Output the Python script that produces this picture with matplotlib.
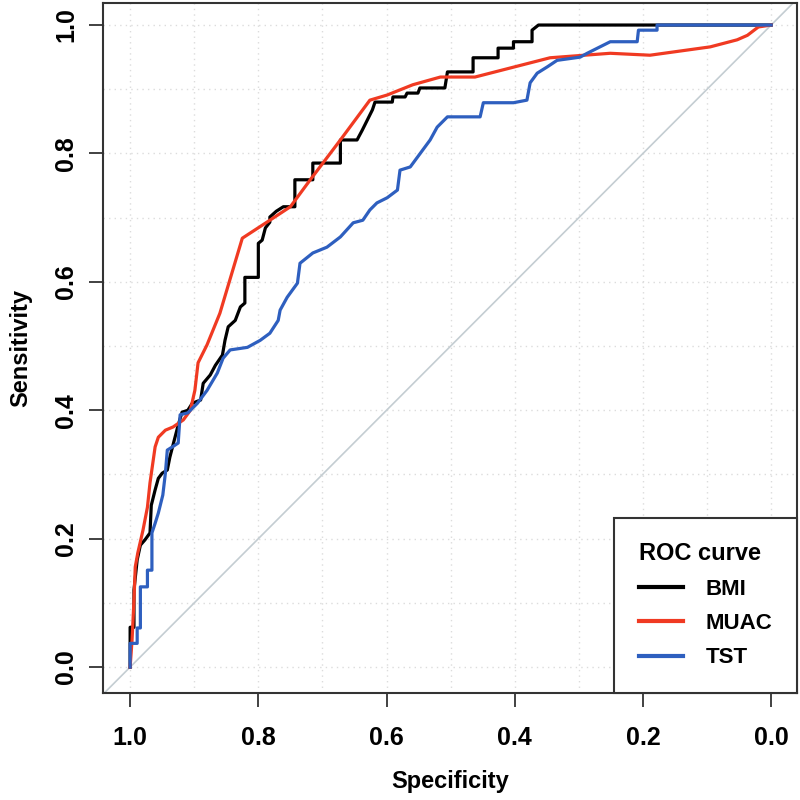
import matplotlib
matplotlib.use("Agg")
import matplotlib.pyplot as plt
import numpy as np

# ---- data (specificity, sensitivity) ----
bmi_spec = [1.0, 1.0, 0.994, 0.994, 0.989, 0.984, 0.977, 0.969, 0.967, 0.961, 0.956, 0.950, 0.942,
            0.938, 0.931, 0.925, 0.919, 0.910, 0.903, 0.890, 0.886, 0.875, 0.867, 0.856, 0.852, 0.847,
            0.836, 0.828, 0.821, 0.821, 0.800, 0.800, 0.794, 0.789, 0.782, 0.782, 0.772, 0.761, 0.743,
            0.743, 0.715, 0.715, 0.672, 0.672, 0.646, 0.638, 0.630, 0.622, 0.618, 0.591, 0.590, 0.571,
            0.568, 0.551, 0.548, 0.509, 0.505, 0.465, 0.465, 0.426, 0.426, 0.402, 0.402, 0.373, 0.373,
            0.363, 0.0]
bmi_sens = [0.0, 0.062, 0.062, 0.12, 0.167, 0.19, 0.198, 0.209, 0.252, 0.276, 0.294, 0.302, 0.307,
            0.327, 0.354, 0.377, 0.397, 0.40, 0.411, 0.416, 0.442, 0.455, 0.47, 0.486, 0.509, 0.53,
            0.54, 0.561, 0.567, 0.607, 0.607, 0.660, 0.665, 0.684, 0.693, 0.701, 0.710, 0.717, 0.717,
            0.759, 0.759, 0.785, 0.785, 0.821, 0.821, 0.836, 0.852, 0.868, 0.880, 0.880, 0.888, 0.888,
            0.894, 0.894, 0.902, 0.902, 0.927, 0.927, 0.949, 0.949, 0.964, 0.964, 0.974, 0.974, 0.992,
            1.0, 1.0]

muac_spec = [1.0, 0.997, 0.994, 0.992, 0.988, 0.980, 0.973, 0.969, 0.961, 0.956, 0.945, 0.933, 0.917,
             0.906, 0.899, 0.894, 0.880, 0.860, 0.825, 0.782, 0.750, 0.719, 0.672, 0.626, 0.599, 0.559,
             0.516, 0.462, 0.345, 0.251, 0.189, 0.095, 0.053, 0.037, 0.020, 0.0]
muac_sens = [0.0, 0.042, 0.104, 0.156, 0.178, 0.213, 0.249, 0.287, 0.343, 0.358, 0.369, 0.374, 0.385,
             0.40, 0.431, 0.474, 0.502, 0.551, 0.668, 0.696, 0.717, 0.759, 0.821, 0.883, 0.891, 0.907,
             0.919, 0.919, 0.949, 0.956, 0.953, 0.966, 0.977, 0.984, 0.997, 1.0]

tst_spec = [1.0, 1.0, 0.989, 0.989, 0.984, 0.984, 0.973, 0.973, 0.966, 0.966, 0.961, 0.956, 0.949,
            0.945, 0.942, 0.934, 0.925, 0.922, 0.910, 0.895, 0.880, 0.864, 0.855, 0.844, 0.817, 0.797,
            0.782, 0.769, 0.766, 0.755, 0.739, 0.735, 0.715, 0.693, 0.672, 0.652, 0.637, 0.626, 0.615,
            0.599, 0.583, 0.579, 0.563, 0.532, 0.521, 0.505, 0.454, 0.449, 0.402, 0.381, 0.376, 0.365,
            0.349, 0.334, 0.298, 0.287, 0.267, 0.251, 0.209, 0.207, 0.178, 0.178, 0.0]
tst_sens = [0.0, 0.037, 0.037, 0.061, 0.061, 0.125, 0.125, 0.151, 0.151, 0.209, 0.224, 0.240, 0.268,
            0.302, 0.338, 0.343, 0.349, 0.393, 0.396, 0.411, 0.431, 0.458, 0.481, 0.494, 0.498, 0.509,
            0.520, 0.540, 0.556, 0.576, 0.598, 0.629, 0.645, 0.654, 0.670, 0.692, 0.696, 0.712, 0.723,
            0.731, 0.743, 0.774, 0.779, 0.821, 0.841, 0.857, 0.857, 0.879, 0.879, 0.883, 0.910, 0.925,
            0.935, 0.945, 0.950, 0.956, 0.966, 0.974, 0.974, 0.992, 0.992, 1.0, 1.0]

series_names = ["BMI", "MUAC", "TST"]
series_colors = ["#000000", "#F03A22", "#2E5FBF"]
ticks = [1.0, 0.8, 0.6, 0.4, 0.2, 0.0]
tick_labels = ["1.0", "0.8", "0.6", "0.4", "0.2", "0.0"]

FONT = ["Liberation Sans", "DejaVu Sans"]
plt.rcParams['font.family'] = FONT

fig = plt.figure(figsize=(8, 8), dpi=100)
ax = fig.add_axes([0.129, 0.134, 0.867, 0.862])

ax.set_xlim(1.042, -0.04)
ax.set_ylim(-0.04, 1.034)

# grid
for g in np.arange(0, 1.01, 0.1):
    ax.axvline(g, color="#DCDCDC", lw=1.0, ls=(0, (1, 3)), zorder=0)
    ax.axhline(g, color="#DCDCDC", lw=1.0, ls=(0, (1, 3)), zorder=0)

ax.axline((1, 0), (0, 1), color="#C4CDD2", lw=1.2, zorder=1)

for s, v, name, c in zip([bmi_spec, muac_spec, tst_spec], [bmi_sens, muac_sens, tst_sens],
                         series_names, series_colors):
    ax.plot(s, v, color=c, lw=2.3, label=name, zorder=3)

ax.set_xticks(ticks)
ax.set_xticklabels(tick_labels)
ax.set_yticks(ticks[::-1])
ax.set_yticklabels(tick_labels[::-1], rotation=90, va="center")
ax.tick_params(axis="both", length=10, width=1.3, color="#333333", labelsize=18)
ax.tick_params(axis="x", pad=14)
ax.tick_params(axis="y", pad=8)
for lab in ax.get_xticklabels() + ax.get_yticklabels():
    lab.set_fontweight("bold")
for sp in ax.spines.values():
    sp.set_linewidth(1.5)
    sp.set_color("#333333")

ax.set_xlabel("Specificity", fontsize=17, fontweight="bold", labelpad=14)
ax.set_ylabel("Sensitivity", fontsize=17, fontweight="bold", labelpad=16)

leg = ax.legend(loc="lower right", bbox_to_anchor=(1, 0), borderaxespad=0, fancybox=False,
                edgecolor="#333333", framealpha=1, title="ROC curve",
                prop={"size": 16, "weight": "bold", "family": FONT},
                title_fontproperties={"size": 17, "weight": "bold", "family": FONT},
                handlelength=2.0, handletextpad=1.0, labelspacing=0.6, borderpad=1.1)
leg.get_frame().set_linewidth(1.5)
leg._legend_box.align = "left"
for h in leg.get_lines():
    h.set_linewidth(3)

fig.savefig("out.png", dpi=100)
